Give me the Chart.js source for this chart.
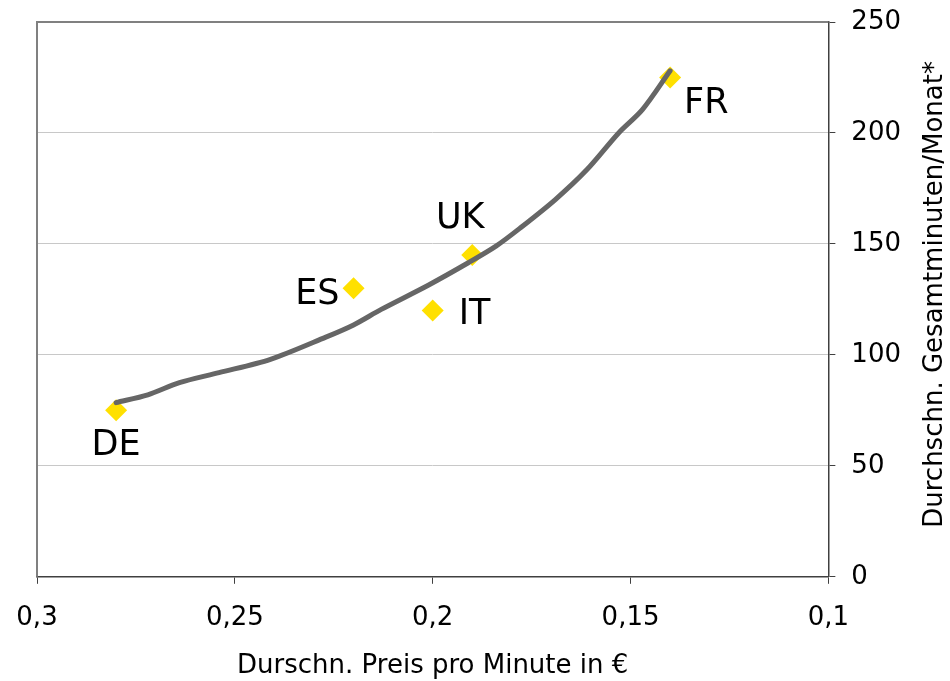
<!DOCTYPE html>
<html>
<head>
<meta charset="utf-8">
<script src="https://cdn.jsdelivr.net/npm/chart.js@4/dist/chart.umd.min.js"></script>
<style>
  html, body { margin: 0; padding: 0; background: #fff; }
  #wrap { width: 950px; height: 681px; }
</style>
</head>
<body>
<div id="wrap"><canvas id="chart"></canvas></div>
<script>
// countries: price per minute (x) vs. minutes per month (y)
const countries = ['DE', 'ES', 'IT', 'UK', 'FR'];
const pricePerMinute = [0.28, 0.22, 0.20, 0.19, 0.14];
const minutesPerMonth = [75, 130, 120, 145, 225];

// trend curve
const curvePrice = [0.28, 0.272, 0.264, 0.254, 0.241, 0.227, 0.220, 0.213, 0.201, 0.191, 0.184, 0.178, 0.169, 0.161, 0.153, 0.147, 0.14];
const curveMinutes = [78.5, 82, 87.5, 92, 98, 108, 113.5, 120.5, 131.5, 141.5, 149, 157, 170, 183.5, 200, 210.5, 228];

const xTicks = [0.3, 0.25, 0.2, 0.15, 0.1];
const yTicks = [0, 50, 100, 150, 200, 250];

const xTitle = 'Durschn. Preis pro Minute in €';
const yTitle = 'Durchschn. Gesamtminuten/Monat*';

const FONT = 'DejaVu Sans';

// label offsets around each diamond
const labelPos = {
  DE: { dx: 0, dy: 36, align: 'center' },
  ES: { dx: -14, dy: 7, align: 'right' },
  IT: { dx: 26, dy: 4, align: 'left' },
  UK: { dx: -12, dy: -36, align: 'center' },
  FR: { dx: 14, dy: 26, align: 'left' }
};

const fmt = v => String(parseFloat(v.toFixed(2))).replace('.', ',');

const extras = {
  id: 'extras',
  afterDraw(chart) {
    const { ctx, chartArea: a, scales } = chart;
    ctx.save();
    // left + top frame
    ctx.strokeStyle = '#808080';
    ctx.lineWidth = 2;
    ctx.beginPath();
    ctx.moveTo(a.left, a.bottom);
    ctx.lineTo(a.left, a.top);
    ctx.lineTo(a.right, a.top);
    ctx.stroke();

    // point labels
    ctx.fillStyle = '#000';
    ctx.font = '35px "' + FONT + '"';
    ctx.textBaseline = 'middle';
    countries.forEach((c, i) => {
      const p = labelPos[c];
      ctx.textAlign = p.align;
      ctx.fillText(c, scales.x.getPixelForValue(pricePerMinute[i]) + p.dx,
        scales.y.getPixelForValue(minutesPerMonth[i]) + p.dy);
    });

    // right axis title, reading bottom to top
    ctx.font = '26px "' + FONT + '"';
    ctx.textAlign = 'center';
    ctx.translate(935, (a.top + a.bottom) / 2 - 5);
    ctx.rotate(-Math.PI / 2);
    ctx.fillText(yTitle, 0, 0);
    ctx.restore();
  }
};

new Chart(document.getElementById('chart'), {
  type: 'scatter',
  data: {
    datasets: [
      {
        type: 'line',
        data: curvePrice.map((x, i) => ({ x, y: curveMinutes[i] })),
        borderColor: '#666666',
        borderWidth: 5,
        borderCapStyle: 'round',
        borderJoinStyle: 'round',
        pointRadius: 0,
        tension: 0.3,
        fill: false,
        order: 0
      },
      {
        data: pricePerMinute.map((x, i) => ({ x, y: minutesPerMonth[i] })),
        pointStyle: 'rectRot',
        pointRadius: 11,
        backgroundColor: '#FFE000',
        borderColor: '#FFE000',
        borderWidth: 0,
        order: 1
      }
    ]
  },
  options: {
    responsive: true,
    maintainAspectRatio: false,
    animation: false,
    layout: { padding: { left: 37, top: 22, right: 33, bottom: 0 } },
    plugins: { legend: { display: false }, tooltip: { enabled: false } },
    scales: {
      x: {
        type: 'linear',
        reverse: true,
        min: 0.1,
        max: 0.3,
        afterBuildTicks: s => { s.ticks = xTicks.map(v => ({ value: v })); },
        ticks: {
          callback: v => fmt(v),
          color: '#000',
          font: { family: FONT, size: 26, lineHeight: 2.2 },
          padding: 6,
          maxRotation: 0
        },
        grid: { drawOnChartArea: false, tickColor: '#404040', tickLength: 7 },
        border: { color: '#404040', width: 1.5 },
        title: {
          display: true,
          text: xTitle,
          color: '#000',
          font: { family: FONT, size: 26, lineHeight: 1.0 },
          padding: { top: 0, bottom: 2 }
        }
      },
      y: {
        position: 'right',
        min: 0,
        max: 250,
        afterBuildTicks: s => { s.ticks = yTicks.map(v => ({ value: v })); },
        ticks: {
          color: '#000',
          font: { family: FONT, size: 26, lineHeight: 0.4 },
          padding: 16
        },
        grid: { color: '#c8c8c8', lineWidth: 1, tickColor: '#404040', tickLength: 7 },
        border: { color: '#404040', width: 1.5 }
      }
    }
  },
  plugins: [extras]
});
</script>
</body>
</html>
